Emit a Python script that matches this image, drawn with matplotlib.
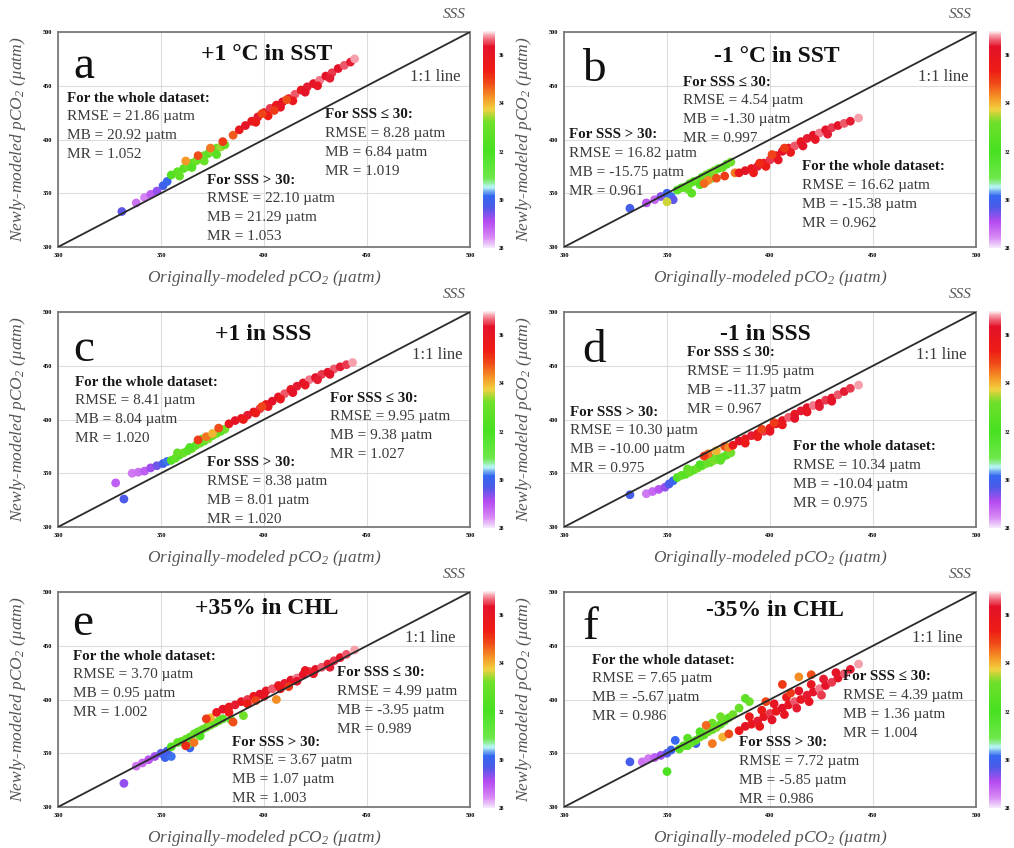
import matplotlib
matplotlib.use('Agg')
import matplotlib.pyplot as plt
from matplotlib.colors import LinearSegmentedColormap, Normalize
from matplotlib.cm import ScalarMappable

plt.rcParams['font.family'] = ['Liberation Serif', 'DejaVu Serif']
plt.rcParams['mathtext.fontset'] = 'custom'
plt.rcParams['mathtext.rm'] = 'Liberation Serif:italic'
plt.rcParams['mathtext.it'] = 'Liberation Serif:italic'

# axis range and ticks shared by all panels
lims = [300, 500]
ticks = [300, 350, 400, 450, 500]
sss_ticks = [28, 30, 32, 34, 36]
sss_min, sss_max = 28, 37

# (a) +1 C in SST
orig_a = [331,338,342,345,348,351,353, 355,358,361,363,365,367,369,371,373,375,377,379,381,359,365,371,377,
          362,368,374,380,385, 388,391,394,397,400,403,406,409,412,415,418,421,424,427,430,433,436,439,442,444,
          396,402,408,414,420,426,432,399,405,411]
new_a = [333,341,346,349,352,357,361, 367,370,373,375,378,380,382,385,387,389,392,393,395,366,374,380,386,
         380,385,392,398,404, 409,413,417,421,425,429,432,435,438,442,446,449,452,455,459,462,466,469,472,475,
         416,422,430,436,444,450,457,424,427,437]
sss_a = [29.6,28.7,28.5,28.9,29.3,29.9,30.1, 32.3,32.7,32.5,33.0,32.6,33.2,32.8,33.1,32.7,33.3,32.9,33.4,33.0,32.8,32.4,33.0,32.6,
         34.2,34.8,34.5,35.0,34.7, 35.8,36.2,35.9,36.4,36.0,36.5,35.7,36.3,36.1,36.6,35.9,36.4,36.2,36.7,36.3,36.5,36.2,36.6,36.4,36.8,
         35.5,35.4,36.0,35.8,36.2,36.0,36.4,34.9,35.0,34.8]

# (b) -1 C in SST
orig_b = [332,340,344,347,350,352,353, 355,357,359,361,363,365,367,369,371,373,375,377,379,381,360,366,372,362,350,
          370,374,378,368,383, 385,388,391,394,397,400,403,406,409,412,415,418,421,424,427,430,433,436,439,443,
          392,398,404,410,416,422,428,401,407,395]
new_b = [336,341,344,347,350,347,344, 353,355,356,359,361,362,365,367,369,371,373,374,377,379,354,358,364,350,342,
         362,364,366,359,369, 369,371,373,375,378,381,385,389,392,394,398,401,404,406,409,411,413,415,417,420,
         369,375,381,388,394,400,405,386,392,378]
sss_b = [29.8,29.0,28.8,29.4,30.0,30.2,29.6, 32.4,32.8,32.5,33.0,32.6,33.2,32.7,33.1,32.9,33.3,32.8,33.0,32.6,33.2,32.9,32.3,33.2,32.7,33.6,
         34.3,34.8,35.0,34.6,34.5, 35.8,36.2,35.9,36.4,36.0,36.5,35.7,36.3,36.1,36.6,35.9,36.4,36.2,36.7,36.3,36.5,36.2,36.6,36.4,36.8,
         35.6,35.5,36.0,35.8,36.2,36.0,36.4,34.9,35.0,35.2]

# (c) +1 in SSS
orig_c = [328,332,336,339,342,345,348,351,353, 355,357,359,361,363,365,367,369,371,373,375,377,379,381,358,364,370,
          372,375,378,368, 383,386,389,392,395,398,401,404,407,410,413,416,419,422,425,428,431,434,437,440,443,
          390,396,402,408,414,420,426,432,399]
new_c = [341,326,350,351,352,355,357,359,361, 362,364,367,369,371,373,376,378,380,382,385,387,389,391,369,374,382,
         384,387,392,381, 396,399,401,404,407,410,414,417,421,424,428,431,434,437,439,442,444,447,449,451,453,
         400,406,412,419,425,432,437,442,412]
sss_c = [28.9,29.7,28.6,28.7,28.9,29.2,29.5,29.9,30.2, 32.4,32.8,32.5,33.0,32.6,33.2,32.7,33.1,32.9,33.3,32.8,33.0,32.6,33.2,32.9,32.3,33.2,
         34.5,34.0,34.8,35.0, 35.8,36.2,35.9,36.4,36.0,36.5,35.7,36.3,36.1,36.6,35.9,36.4,36.2,36.7,36.3,36.5,36.2,36.6,36.4,36.5,36.8,
         35.6,35.5,36.0,35.8,36.2,36.0,36.4,36.2,34.9]

# (d) -1 in SSS
orig_d = [332,340,343,346,349,351,353, 355,357,359,361,363,365,367,369,371,373,375,377,379,381,360,366,372,376,
          370,374,378,368,380, 382,385,388,391,394,397,400,403,406,409,412,415,418,421,424,427,430,433,436,439,443,
          388,394,400,406,412,418,424,430,396,402]
new_d = [330,331,333,335,337,340,343, 346,348,349,351,353,355,357,359,360,362,364,365,367,369,354,358,364,362,
         368,371,375,366,374, 376,380,382,385,387,389,392,396,399,402,405,408,411,413,415,418,420,423,426,429,432,
         378,384,389,395,401,407,412,417,391,397]
sss_d = [29.8,28.6,28.8,29.0,29.3,29.7,30.1, 32.4,32.8,32.5,33.0,32.6,33.2,32.7,33.1,32.9,33.3,32.8,33.0,32.6,33.2,32.9,32.3,33.2,32.7,
         34.5,34.0,34.8,35.0,34.3, 35.8,36.2,35.9,36.4,36.0,36.5,35.7,36.3,36.1,36.6,35.9,36.4,36.2,36.7,36.3,36.5,36.2,36.6,36.4,36.5,36.8,
         35.6,35.5,36.0,35.8,36.2,36.0,36.4,36.2,34.9,35.0]

# (e) +35% in CHL
orig_e = [332,338,341,344,347,350,352,355,364,353, 355,358,360,362,364,366,368,370,372,374,376,378,380,363,369,390,384,
          366,374,385,372,406,362, 377,380,383,386,389,392,395,398,401,404,407,410,413,416,419,422,425,428,431,434,437,440,444,
          383,392,400,408,416,424,432,396,412,420]
new_e = [322,338,341,344,347,350,346,347,355,352, 356,360,361,363,365,368,370,372,374,376,378,380,382,358,366,385,381,
         360,383,379,382,400,357, 388,391,393,395,398,400,403,405,408,410,413,415,418,420,423,426,428,430,433,436,439,442,446,
         388,396,403,410,417,424,430,399,412,427]
sss_e = [29.3,28.6,28.8,29.0,29.2,29.6,30.0,30.2,30.0,29.8, 32.4,32.8,32.5,33.0,32.6,33.2,32.7,33.1,32.9,33.3,32.8,33.0,32.6,32.9,32.3,33.2,32.7,
         34.5,34.0,34.8,35.0,34.3,35.2, 35.8,36.2,35.9,36.4,36.0,36.5,35.7,36.3,36.1,36.6,35.9,36.4,36.2,36.7,36.3,36.5,36.2,36.6,36.4,36.5,36.2,36.6,36.8,
         35.6,35.5,36.0,35.8,36.2,36.0,36.4,34.9,35.0,36.0]

# (f) -35% in CHL
orig_f = [332,338,341,344,347,350,354,364,352, 350,356,358,360,362,364,366,368,370,372,374,376,378,380,382,385,390,388,366,372,360,376,
          372,377,380,406,414,369,420, 385,388,391,394,397,400,403,406,409,412,415,418,421,424,427,430,433,436,439,443,
          390,396,402,408,414,420,426,432,398,410,395,401,407,413,419,425]
new_f = [342,342,345,346,348,350,362,359,353, 333,354,357,357,360,362,365,367,370,372,374,377,380,383,386,392,398,401,370,378,364,384,
         359,365,368,414,421,376,423, 371,375,377,380,384,387,389,392,395,398,400,404,407,410,413,416,420,424,428,433,
         384,390,396,402,408,414,419,425,398,406,375,381,386,392,398,404]
sss_f = [29.8,28.7,28.6,28.9,29.2,29.6,30.1,29.9,30.0, 32.2,32.4,32.8,32.5,33.0,32.6,33.2,32.7,33.1,32.9,33.3,32.8,33.0,32.6,33.2,32.9,33.1,32.7,32.4,33.0,32.6,33.2,
         34.5,34.0,34.8,35.0,34.3,34.6,34.8, 35.8,36.2,35.9,36.4,36.0,36.5,35.7,36.3,36.1,36.6,35.9,36.4,36.2,36.7,36.3,36.5,36.2,36.6,36.4,36.8,
         35.6,35.5,36.0,35.8,36.2,36.0,36.4,36.2,34.9,35.0,35.8,36.2,36.0,36.4,36.1,36.5]

letters = ['a', 'b', 'c', 'd', 'e', 'f']
titles = ['+1 °C in SST', '-1 °C in SST', '+1 in SSS', '-1 in SSS', '+35% in CHL', '-35% in CHL']

# statistics: whole dataset, SSS <= 30, SSS > 30
rmse_whole = [21.86, 16.62, 8.41, 10.34, 3.70, 7.65]
mb_whole = [20.92, -15.38, 8.04, -10.04, 0.95, -5.67]
mr_whole = [1.052, 0.962, 1.020, 0.975, 1.002, 0.986]
rmse_low = [8.28, 4.54, 9.95, 11.95, 4.99, 4.39]
mb_low = [6.84, -1.30, 9.38, -11.37, -3.95, 1.36]
mr_low = [1.019, 0.997, 1.027, 0.967, 0.989, 1.004]
rmse_high = [22.10, 16.82, 8.38, 10.30, 3.67, 7.72]
mb_high = [21.29, -15.75, 8.01, -10.00, 1.07, -5.85]
mr_high = [1.053, 0.961, 1.020, 0.975, 1.003, 0.986]

panel_data = [(orig_a, new_a, sss_a), (orig_b, new_b, sss_b), (orig_c, new_c, sss_c),
              (orig_d, new_d, sss_d), (orig_e, new_e, sss_e), (orig_f, new_f, sss_f)]

# layout in pixels (axes left/top), text blocks relative to axes top-left
W, H = 1014, 848
AW, AH = 412, 215
ax_pos = [(58, 32), (564, 32), (58, 312), (564, 312), (58, 592), (564, 592)]
letter_pos = [(15, 46), (18, 49), (15, 49), (18, 50), (14, 43), (18, 47)]
title_pos = [(209, 23), (213, 25), (205, 22), (201, 22), (209, 17), (211, 18)]
oneone_pos = [(402, 45), (404, 45), (404, 43), (402, 43), (397, 46), (399, 46)]
whole_pos = [(9, 66), (238, 135), (17, 70), (229, 135), (15, 64), (28, 68)]
low_pos = [(267, 83), (119, 50), (272, 86), (123, 41), (279, 81), (279, 85)]
high_pos = [(149, 148), (5, 103), (149, 151), (6, 100), (174, 150), (175, 151)]
line_step = 18.7

cmap = LinearSegmentedColormap.from_list('sss', [
    (0.00, '#f3e6fa'), (0.05, '#d886f5'), (0.12, '#b44cf0'), (0.19, '#4a5ae8'),
    (0.24, '#3468f0'), (0.28, '#b8f4f4'), (0.32, '#6ee84a'), (0.45, '#48e020'),
    (0.58, '#70e02a'), (0.64, '#f0d040'), (0.69, '#f59a28'), (0.76, '#f04a18'),
    (0.82, '#ee1c14'), (0.93, '#e4122a'), (0.97, '#f27a8a'), (1.00, '#fde8ea')])
norm = Normalize(sss_min, sss_max)

fig = plt.figure(figsize=(W / 100, H / 100), dpi=100)


def block(ax, pos, header, rmse, mb, mr):
    x0 = pos[0] / AW
    y0 = 1 - pos[1] / AH
    dy = line_step / AH
    ax.text(x0, y0, header, transform=ax.transAxes, fontsize=10.8, fontweight='bold',
            color='#1a1a1a', va='center', ha='left')
    lines = ['RMSE = %.2f µatm' % rmse, 'MB = %.2f µatm' % mb, 'MR = %.3f' % mr]
    for k, s in enumerate(lines):
        ax.text(x0, y0 - (k + 1) * dy, s, transform=ax.transAxes, fontsize=11,
                color='#3a3a3a', va='center', ha='left')


for i in range(6):
    left, top = ax_pos[i]
    ax = fig.add_axes([left / W, (H - top - AH) / H, AW / W, AH / H])
    x, y, s = panel_data[i]
    ax.scatter(x, y, c=s, cmap=cmap, norm=norm, s=40, edgecolors='none', zorder=2)
    ax.plot(lims, lims, color='#2a2a2a', lw=1.3, zorder=3)
    ax.set_xlim(lims)
    ax.set_ylim(lims)
    ax.set_xticks(ticks)
    ax.set_yticks(ticks)
    ax.set_xticklabels([str(t) for t in ticks], fontsize=4.5, fontweight='bold')
    ax.set_yticklabels([str(t) for t in ticks], fontsize=4.5, fontweight='bold')
    ax.tick_params(length=0, pad=4)
    ax.grid(True, color='#dcdcdc', lw=0.8, zorder=0)
    ax.set_axisbelow(True)
    for sp in ax.spines.values():
        sp.set_color('#7a7a7a')
        sp.set_linewidth(1.3)

    ax.text(letter_pos[i][0] / AW, 1 - letter_pos[i][1] / AH, letters[i], transform=ax.transAxes,
            fontsize=34, va='baseline', ha='left', color='#111111')
    ax.text(title_pos[i][0] / AW, 1 - title_pos[i][1] / AH, titles[i], transform=ax.transAxes,
            fontsize=17, fontweight='bold', va='center', ha='center', color='#111111')
    ax.text(oneone_pos[i][0] / AW, 1 - oneone_pos[i][1] / AH, '1:1 line', transform=ax.transAxes,
            fontsize=12, va='center', ha='right', color='#3a3a3a')

    block(ax, whole_pos[i], 'For the whole dataset:', rmse_whole[i], mb_whole[i], mr_whole[i])
    block(ax, low_pos[i], 'For SSS ≤ 30:', rmse_low[i], mb_low[i], mr_low[i])
    block(ax, high_pos[i], 'For SSS > 30:', rmse_high[i], mb_high[i], mr_high[i])

    ax.text(0.5, -31 / AH, r'Originally-modeled pCO$_2$ (µatm)', transform=ax.transAxes,
            fontsize=12.5, style='italic', color='#555555', va='center', ha='center')
    ax.text(-40 / AW, 0.5, r'Newly-modeled pCO$_2$ (µatm)', transform=ax.transAxes,
            fontsize=12.5, style='italic', color='#555555', va='center', ha='center', rotation=90)
    ax.text(396 / AW, 1 + 18 / AH, 'SSS', transform=ax.transAxes,
            fontsize=11, style='italic', color='#555555', va='center', ha='center')

    # colour bar beside each panel
    cax = fig.add_axes([(left + 425) / W, (H - top - AH - 1) / H, 12 / W, (AH + 2) / H])
    cb = fig.colorbar(ScalarMappable(norm=norm, cmap=cmap), cax=cax, ticks=sss_ticks)
    cb.outline.set_visible(False)
    cb.ax.tick_params(length=0, pad=3)
    cb.ax.set_yticklabels([str(t) for t in sss_ticks], fontsize=4, fontweight='bold')

fig.savefig('out.png', dpi=100)
